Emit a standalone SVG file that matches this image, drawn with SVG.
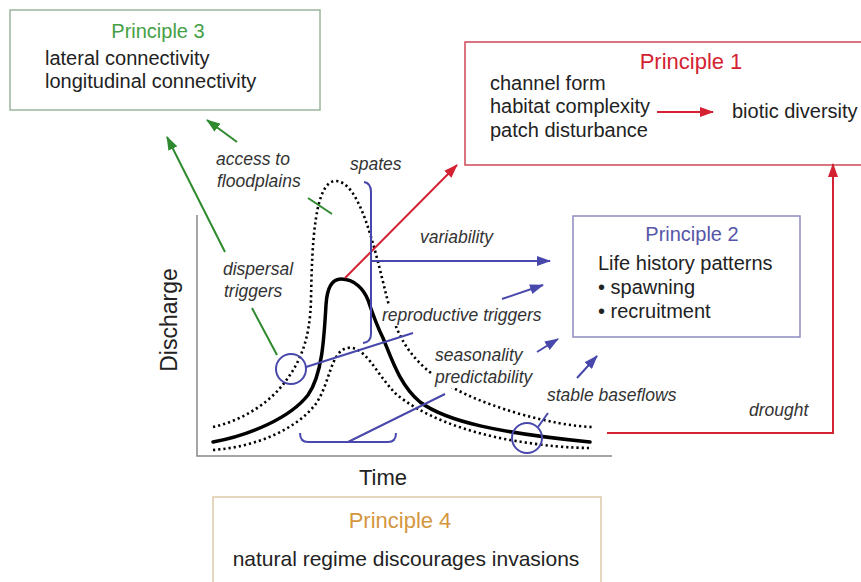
<svg xmlns="http://www.w3.org/2000/svg" width="861" height="582" viewBox="0 0 861 582">
<style>
.box{fill:#fff;stroke-width:1.5}
.body{font-family:"Liberation Sans",Arial,sans-serif;font-size:20px;fill:#222}
.title{font-family:"Liberation Sans",Arial,sans-serif;font-size:20px;text-anchor:middle}
.lbl{font-family:"Liberation Sans",Arial,sans-serif;font-size:17.5px;font-style:italic;fill:#333}
.axis{font-family:"Liberation Sans",Arial,sans-serif;font-size:22px;fill:#222;text-anchor:middle}
.solid{fill:none;stroke:#000;stroke-width:3.5;stroke-linecap:round}
.dot{fill:none;stroke:#000;stroke-width:2.6;stroke-dasharray:2.2 3}
.blue{fill:none;stroke:#4848ac;stroke-width:2}
.red{fill:none;stroke:#d42232;stroke-width:2}
.green{fill:none;stroke:#2f8a2f;stroke-width:2}
</style>
<defs>
<marker id="aB" viewBox="0 0 14 10" refX="13" refY="5" markerWidth="14" markerHeight="10" markerUnits="userSpaceOnUse" orient="auto"><path d="M0 0 L14 5 L0 10 Z" fill="#4848ac"/></marker>
<marker id="aR" viewBox="0 0 14 10" refX="13" refY="5" markerWidth="14" markerHeight="10" markerUnits="userSpaceOnUse" orient="auto"><path d="M0 0 L14 5 L0 10 Z" fill="#d42232"/></marker>
<marker id="aG" viewBox="0 0 14 10" refX="13" refY="5" markerWidth="14" markerHeight="10" markerUnits="userSpaceOnUse" orient="auto"><path d="M0 0 L14 5 L0 10 Z" fill="#2f8a2f"/></marker>
</defs>
<rect width="861" height="582" fill="#fff"/>

<g id="principle3">
<rect class="box" x="10" y="10" width="310" height="100" stroke="#9cb49c"/>
<text class="title" x="158" y="38" fill="#45a045">Principle 3</text>
<text class="body" x="45" y="65">lateral connectivity</text>
<text class="body" x="45" y="88">longitudinal connectivity</text>
</g>

<g id="principle1">
<rect class="box" x="465" y="42" width="410" height="123" stroke="#cc4858"/>
<text class="title" x="691" y="69" fill="#d42232" style="font-size:22px">Principle 1</text>
<text class="body" x="490" y="90">channel form</text>
<text class="body" x="490" y="113">habitat complexity</text>
<text class="body" x="490" y="137">patch disturbance</text>
<text class="body" x="732" y="118">biotic diversity</text>
</g>

<g id="principle2">
<rect class="box" x="573" y="216" width="227" height="121" stroke="#8c8cc0"/>
<text class="title" x="692" y="241" fill="#5656a8">Principle 2</text>
<text class="body" x="598" y="270">Life history patterns</text>
<text class="body" x="598" y="294">•  spawning</text>
<text class="body" x="598" y="318">•  recruitment</text>
</g>

<g id="principle4">
<rect class="box" x="213" y="497" width="388" height="95" stroke="#dccaa8"/>
<text class="title" x="400" y="528" fill="#d4963e" style="font-size:22px">Principle 4</text>
<text class="body" x="406" y="566" style="font-size:21px;text-anchor:middle">natural regime discourages invasions</text>
</g>

<g id="chart">
<path d="M197 215 L197 456 L612 456" fill="none" stroke="#888" stroke-width="1.5"/>
<text class="axis" transform="translate(177 320) rotate(-90)" style="font-size:23px">Discharge</text>
<text class="axis" x="383" y="485">Time</text>
<path class="dot" d="M213 427 C245 420 272 400 285 382 C300 362 310 340 311 300 C312 240 315 183 335 181 C360 180 375 250 387 298 C395 330 405 350 425 368 C450 390 480 402 520 414 C550 422 570 426 592 427"/>
<path class="dot" d="M213 450 C255 447 295 430 315 405 C330 385 330 352 347 348 C365 345 375 372 395 393 C420 415 465 432 510 440 C545 446 570 448 592 448"/>
<path class="solid" d="M213 442 C250 435 290 418 308 395 C322 375 324 340 326 305 C327 288 332 279 341 279 C355 279 364 290 368 300 C373 315 378 328 383 338 C392 360 400 385 420 402 C447 422 500 433 590 442"/>
<rect x="380" y="306" width="168" height="20" fill="#fff"/>
<rect x="432" y="347" width="100" height="41" fill="#fff"/>
</g>

<g id="connectors">
<path class="red" d="M345 278 L457 165" marker-end="url(#aR)"/>
<path class="red" d="M657 112 L713 112" marker-end="url(#aR)"/>
<path class="red" d="M607 433 L833 433 L833 164" marker-end="url(#aR)"/>
<path class="green" d="M237 142 L207 120" marker-end="url(#aG)"/>
<path class="green" d="M225 252 L167 137" marker-end="url(#aG)"/>
<path class="green" d="M308 198 L332 214"/>
<path class="green" d="M252 308 L277 355"/>
<path class="blue" d="M364 182 Q371 183 371 192 L371 334 Q371 342 363 343"/>
<path class="blue" d="M371 261 L550 261" marker-end="url(#aB)"/>
<circle class="blue" cx="291" cy="369" r="15"/>
<path class="blue" d="M306 367 L413 333"/>
<path class="blue" d="M502 299 L543 285" marker-end="url(#aB)"/>
<path class="blue" d="M300 433 Q300 442 308 442 L388 442 Q396 442 396 433"/>
<path class="blue" d="M348 442 L445 394"/>
<path class="blue" d="M537 352 L558 339" marker-end="url(#aB)"/>
<circle class="blue" cx="527" cy="438" r="15"/>
<path class="blue" d="M538 427 L548 413"/>
<path class="blue" d="M577 378 L597 356" marker-end="url(#aB)"/>
</g>

<g id="labels">
<text class="lbl" x="216" y="165">access to</text>
<text class="lbl" x="217" y="187">floodplains</text>
<text class="lbl" x="350" y="170">spates</text>
<text class="lbl" x="223" y="275">dispersal</text>
<text class="lbl" x="224" y="297">triggers</text>
<text class="lbl" x="420" y="243">variability</text>
<text class="lbl" x="382" y="321">reproductive triggers</text>
<text class="lbl" x="435" y="361">seasonality</text>
<text class="lbl" x="435" y="383">predictability</text>
<text class="lbl" x="547" y="401">stable baseflows</text>
<text class="lbl" x="749" y="416">drought</text>
</g>
</svg>
